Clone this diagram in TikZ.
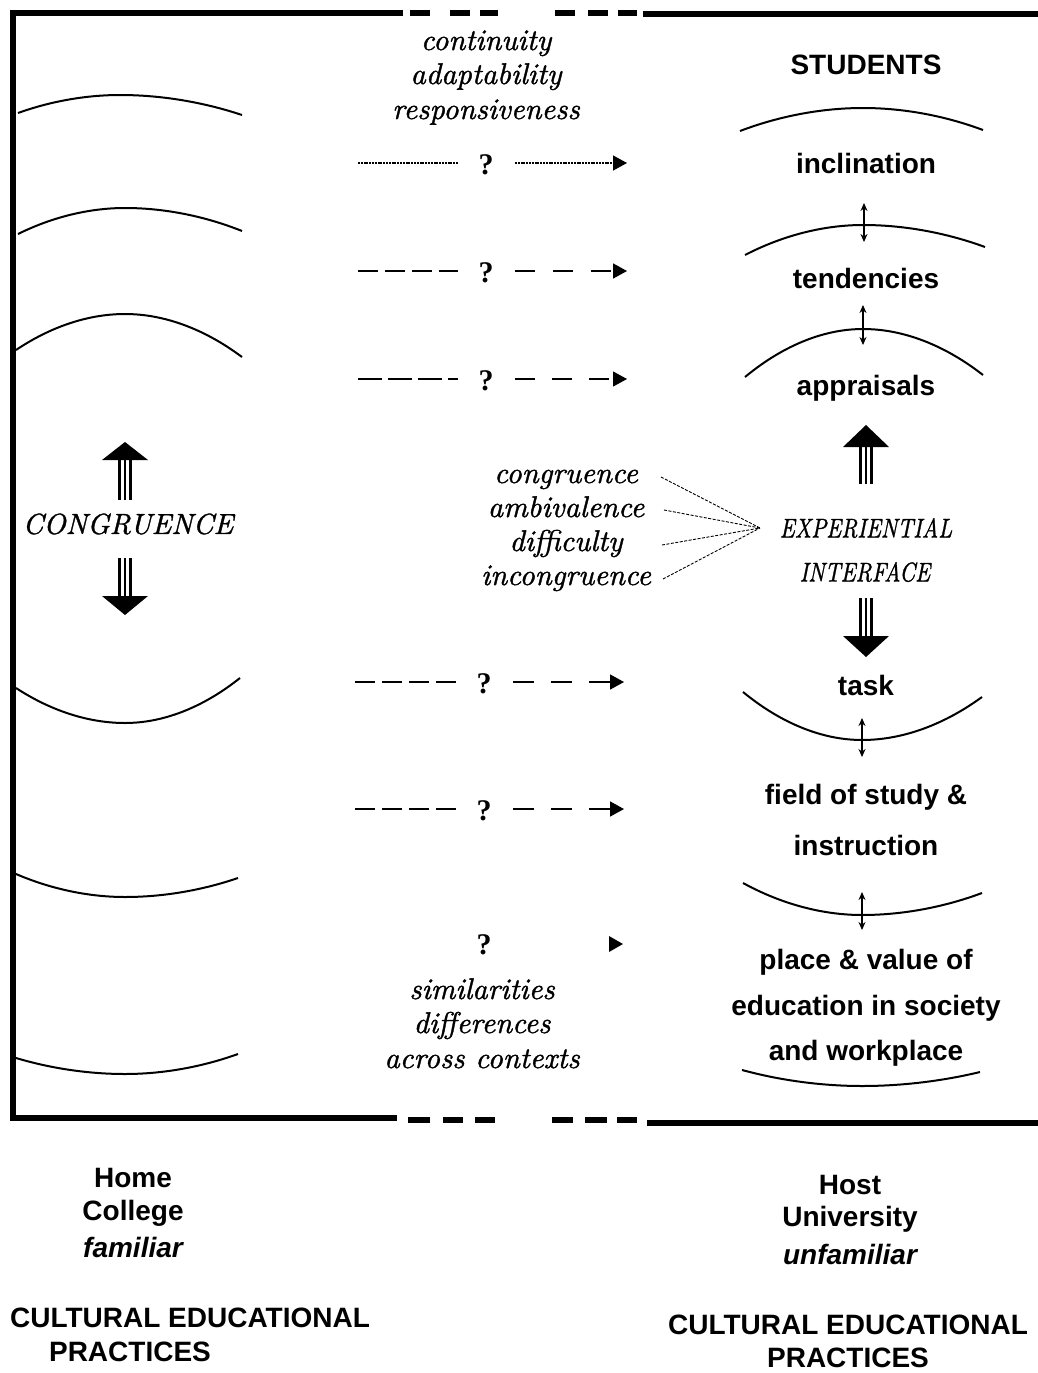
\documentclass[tikz,border=0pt]{standalone}
\usepackage{fontspec}
\setsansfont{Liberation Sans}
\newfontfamily\capfont{lmroman10-italic.otf}[FakeBold=1.2]
\newfontfamily\qfont{Liberation Serif}
\usetikzlibrary{arrows.meta}
% hollow-shaft block arrows: centre x, shaft end y, head base y, tip y
\newcommand\fatarrow[4]{%
  \draw[line width=2.6pt] (#1-5.5,#2) -- (#1-5.5,#3);
  \draw[line width=2.6pt] (#1+5.5,#2) -- (#1+5.5,#3);
  \draw[line width=1.4pt] (#1,#2) -- (#1,#3);
  \fill (#1-23,#3) -- (#1+23,#3) -- (#1,#4) -- cycle;}
\begin{document}
\begin{tikzpicture}[x=1pt,y=-1pt,
  lab/.style={font=\sffamily\bfseries\fontsize{28}{28}\selectfont, inner sep=0pt},
  labit/.style={font=\sffamily\bfseries\itshape\fontsize{28}{28}\selectfont, inner sep=0pt},
  itl/.style={font=\capfont\fontsize{30}{30}\selectfont, inner sep=0pt, anchor=base},
  caps/.style={font=\capfont\fontsize{29}{29}\selectfont, inner sep=0pt},
  qm/.style={font=\qfont\bfseries\fontsize{30}{30}\selectfont, inner sep=0pt},
  rim/.style={line width=2pt},
  frame/.style={line width=5.5pt},
  twoway/.style={line width=1.3pt, {Stealth[length=8pt,width=7pt]}-{Stealth[length=8pt,width=7pt]}},
  tohost/.style={line width=1.3pt, -{Triangle[length=14pt,width=15pt]}},
  fan/.style={line width=0.9pt, dash pattern=on 3pt off 1.5pt}]
\useasboundingbox (0,0) rectangle (1038,1373);

% ---------- frame ----------
\draw[frame] (403,13) -- (13,13) -- (13,1118) -- (397,1118);
\foreach \a/\b in {410/430,450/470,480/498,555/575,588/608,618/637}
  \draw[frame] (\a,13) -- (\b,13);
\draw[frame] (643,14) -- (1038,14);
\foreach \a/\b in {408/430,443/463,475/495,552/573,585/607,617/637}
  \draw[frame] (\a,1120) -- (\b,1120);
\draw[frame] (647,1123) -- (1038,1123);

% ---------- home side: concentric rims ----------
\draw[rim] (18,113) parabola bend (120,95) (242,115);
\draw[rim] (18,234) parabola bend (125,208) (242,231);
\draw[rim] (16,350) parabola bend (125,314) (242,357);
\draw[rim] (16,688) parabola bend (125,723) (240,678);
\draw[rim] (16,874) parabola bend (125,897) (238,878);
\draw[rim] (16,1058) parabola bend (125,1074) (238,1054);

\node[caps] (cong) at (128,524) {CONGRUENCE};
\fatarrow{125}{500}{460}{442}
\fatarrow{125}{558}{596}{615}

% ---------- host side: student layers ----------
\node[lab] (stud) at (866,65) {STUDENTS};
\draw[rim] (740,131) parabola bend (863,108) (983,130);
\node[lab] (incl) at (866,163) {inclination};
\draw[rim] (745,255) parabola bend (863,225) (985,247);
\node[lab] (tend) at (866,278) {tendencies};
\draw[rim] (745,377) parabola bend (863,329) (983,375);
\node[lab] (appr) at (866,388) {appraisals};

\coordinate (u1) at (864,203); \coordinate (v1) at (864,242);
\coordinate (u2) at (863,305); \coordinate (v2) at (863,345);
\draw[twoway] (u1) -- (v1);
\draw[twoway] (u2) -- (v2);

\fatarrow{866}{484}{447}{425}
\node[caps, font=\capfont\fontsize{27}{27}\selectfont] (exp) at (866,528) {\scalebox{0.82}[1]{EXPERIENTIAL}};
\node[caps, font=\capfont\fontsize{27}{27}\selectfont] (intf) at (865,572) {\scalebox{0.82}[1]{INTERFACE}};
\fatarrow{866}{598}{636}{657}

\node[lab] (task) at (866,685) {task};
\draw[rim] (743,692) parabola bend (862,740) (982,697);
\node[lab] (field) at (866,797) {field of study \&};
\node[lab] (instr) at (866,845) {instruction};
\draw[rim] (743,883) parabola bend (862,915) (982,893);
\node[lab] (place) at (866,962) {place \& value of};
\node[lab] (educ) at (866,1008) {education in society};
\node[lab] (work) at (866,1053) {and workplace};
\draw[rim] (742,1070) parabola bend (862,1086) (980,1072);

\coordinate (u3) at (862,718); \coordinate (v3) at (862,757);
\coordinate (u4) at (862,892); \coordinate (v4) at (862,930);
\draw[twoway] (u3) -- (v3);
\draw[twoway] (u4) -- (v4);

% ---------- middle: qualities and links ----------
\node[itl] (cont) at (486,50) {continuity};
\node[itl] (adap) at (486,84) {adaptability};
\node[itl] (resp) at (486,119) {responsiveness};

\node[qm] (q1) at (486,165) {?};
\node[qm] (q2) at (486,273) {?};
\node[qm] (q3) at (486,381) {?};
\node[qm] (q4) at (484,684) {?};
\node[qm] (q5) at (484,811) {?};
\node[qm] (q6) at (484,945) {?};

\coordinate (a1) at (358,163); \coordinate (b1) at (458,163);
\coordinate (c1) at (515,163); \coordinate (d1) at (627,163);
\draw[line width=1.2pt, dash pattern=on 2pt off 0.8pt] (a1) -- (b1);
\draw[tohost, dash pattern=on 2pt off 0.8pt] (c1) -- (d1);

\coordinate (a2) at (358,271); \coordinate (b2) at (458,271);
\coordinate (c2) at (515,271); \coordinate (d2) at (627,271);
\draw[line width=1.6pt, dash pattern=on 20pt off 7pt] (a2) -- (b2);
\draw[tohost, line width=1.6pt, dash pattern=on 20pt off 18pt] (c2) -- (d2);

\coordinate (a3) at (358,379); \coordinate (b3) at (458,379);
\coordinate (c3) at (515,379); \coordinate (d3) at (627,379);
\draw[line width=1.1pt, dash pattern=on 24pt off 6pt] (a3) -- (b3);
\draw[tohost, line width=1.1pt, dash pattern=on 20pt off 17pt] (c3) -- (d3);

\coordinate (a4) at (355,682); \coordinate (b4) at (456,682);
\coordinate (c4) at (513,682); \coordinate (d4) at (624,682);
\draw[line width=1.6pt, dash pattern=on 20pt off 7pt] (a4) -- (b4);
\draw[tohost, line width=1.6pt, dash pattern=on 21pt off 17pt] (c4) -- (d4);

\coordinate (a5) at (355,809); \coordinate (b5) at (456,809);
\coordinate (c5) at (513,809); \coordinate (d5) at (624,809);
\draw[line width=1.6pt, dash pattern=on 20pt off 7pt] (a5) -- (b5);
\draw[tohost, line width=1.6pt, dash pattern=on 21pt off 17pt] (c5) -- (d5);

\fill (609,936) -- (623,944) -- (609,952) -- cycle;

\node[itl] (sim) at (482,999) {similarities};
\node[itl] (diff) at (482,1033) {differences};
\node[itl] (acr) at (482,1068) {across contexts};

% experiential outcomes converging on the interface
\node[itl] (e1) at (566,483) {congruence};
\node[itl] (e2) at (566,517) {ambivalence};
\node[itl] (e3) at (566,551) {difficulty};
\node[itl] (e4) at (566,585) {incongruence};
\coordinate (hub) at (760,528);
\coordinate (f1) at (661,477); \coordinate (f2) at (664,510);
\coordinate (f3) at (662,545); \coordinate (f4) at (663,579);
\foreach \f in {f1,f2,f3,f4} \draw[fan] (\f) -- (hub);

% ---------- captions below the frame ----------
\node[lab] (home) at (133,1178) {Home};
\node[lab] (coll) at (133,1213) {College};
\node[labit] (fam) at (133,1247) {familiar};
\node[lab] (cep1) at (190,1318) {CULTURAL EDUCATIONAL};
\node[lab] (pr1) at (130,1352) {PRACTICES};

\node[lab] (host) at (850,1185) {Host};
\node[lab] (univ) at (850,1219) {University};
\node[labit] (unf) at (850,1254) {unfamiliar};
\node[lab] (cep2) at (848,1325) {CULTURAL EDUCATIONAL};
\node[lab] (pr2) at (848,1358) {PRACTICES};
\end{tikzpicture}
\end{document}
